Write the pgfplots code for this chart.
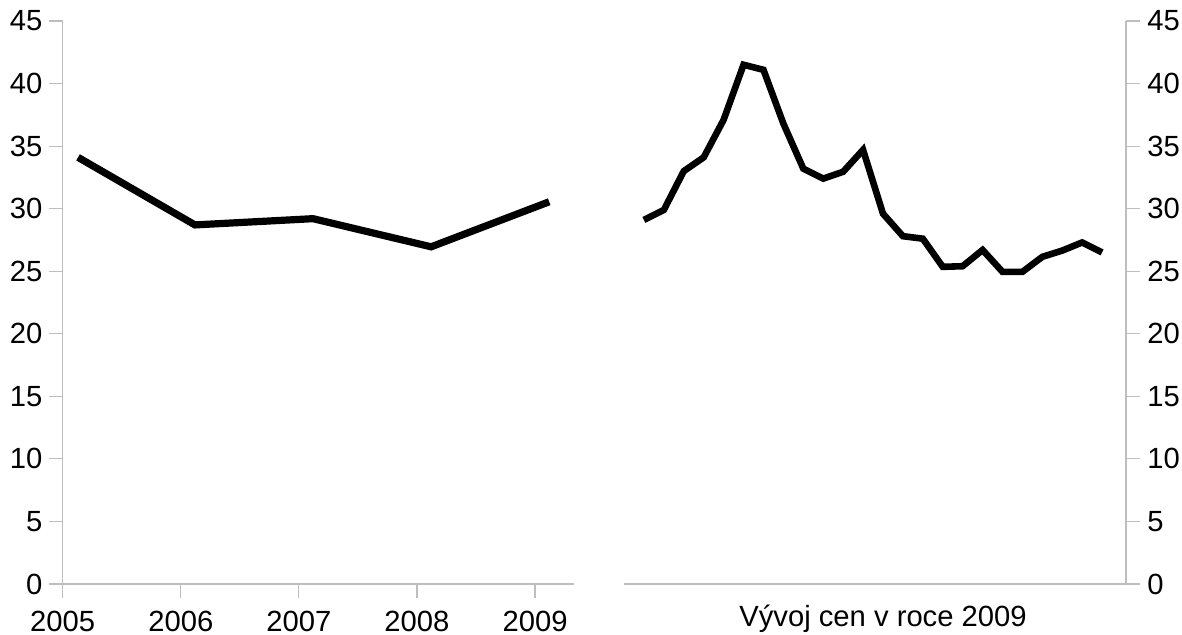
\documentclass[border=0pt]{standalone}
\usepackage{fontspec}
\setmainfont{Liberation Sans}
\usepackage{pgfplots}
\pgfplotsset{compat=1.18}
\definecolor{axgray}{RGB}{190,190,190}
\begin{document}
\begin{tikzpicture}
\path[use as bounding box] (0pt,0pt) rectangle (591pt,317.5pt);
\pgfplotsset{
  common/.style={
    scale only axis, anchor=south west,
    ymin=0, ymax=45, ytick={0,5,...,45},
    axis line style={axgray, line width=0.55pt},
    tick style={axgray, line width=0.55pt},
    tick align=outside, major tick length=7pt,
    ticklabel style={font=\fontsize{14.6}{17}\selectfont, text=black},
    /pgf/number format/assume math mode=true,
    /pgf/number format/1000 sep={},
    clip=false,
  }
}
% left panel
\begin{axis}[common,
  at={(31.35pt,25.5pt)}, width=255.65pt, height=281.5pt,
  axis x line*=bottom, axis y line*=left,
  xmin=2005, xmax=2009.33, xtick={2005,2006,2007,2008,2009},
  yticklabel style={inner xsep=3.0pt, inner ysep=0pt},
  xticklabel style={inner ysep=6.3pt, inner xsep=0pt},
]
\addplot[black, line width=3.6pt] coordinates {
  (2005.13,34.1) (2006.12,28.7) (2007.12,29.2) (2008.12,26.95) (2009.12,30.55)
};
\end{axis}
% right panel
\begin{axis}[common,
  at={(312pt,25.5pt)}, width=251pt, height=281.5pt,
  axis x line*=bottom, axis y line*=right,
  xmin=-1, xmax=24.2, xtick=\empty,
  yticklabel style={inner xsep=3.5pt, inner ysep=0pt},
  xlabel={Vývoj cen v roce 2009},
  xlabel style={at={(axis description cs:0.516,0)}, anchor=base, yshift=-21.4pt, inner sep=0pt, font=\fontsize{14.6}{17}\selectfont},
]
\addplot[black, line width=3.3pt] coordinates {
  (0,29.1) (1,29.9) (2,33.0) (3,34.1) (4,37.1) (5,41.5) (6,41.1) (7,36.8)
  (8,33.2) (9,32.4) (10,32.95) (11,34.7) (12,29.6) (13,27.8) (14,27.6)
  (15,25.35) (16,25.4) (17,26.7) (18,24.95) (19,24.95) (20,26.15)
  (21,26.65) (22,27.3) (23,26.5)
};
\end{axis}
\end{tikzpicture}
\end{document}
